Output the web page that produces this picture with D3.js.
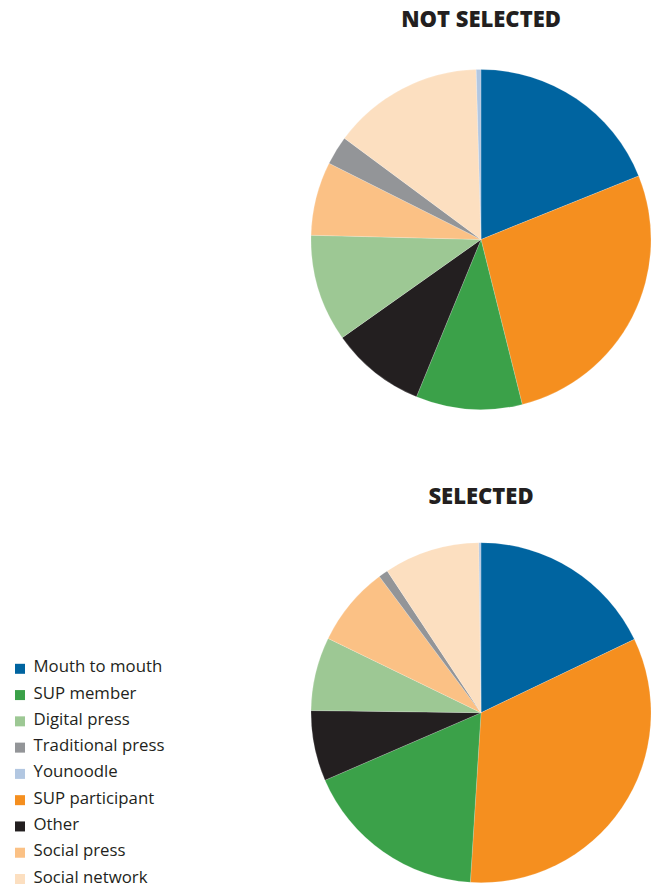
<!DOCTYPE html>
<html>
<head>
<meta charset="utf-8">
<script src="https://cdn.jsdelivr.net/npm/d3@7"></script>
<style>
  html, body { margin: 0; padding: 0; background: #fff; }
  svg { display: block; }
</style>
</head>
<body>
<svg id="chart" width="655" height="889"></svg>
<script>
// Information sources, share of respondents (%)
const sources = ["Mouth to mouth", "SUP member", "Digital press", "Traditional press",
                 "Younoodle", "SUP participant", "Other", "Social press", "Social network"];
const sourceColors = ["#0064a0", "#3ba149", "#9dc894", "#939598",
                      "#b2c7e1", "#f58f1f", "#231f20", "#fbc185", "#fcdfc0"];

// Clockwise slice order, starting at twelve o'clock
const sliceOrder = ["Mouth to mouth", "SUP participant", "SUP member", "Other", "Digital press",
                    "Social press", "Traditional press", "Social network", "Younoodle"];

// Values listed in sliceOrder
const notSelected = [18.9, 27.2, 10.1, 9.0, 10.2, 7.0, 2.75, 14.4, 0.45];
const selected    = [17.9, 33.1, 17.5, 6.7, 7.0, 7.6, 0.9, 9.1, 0.2];

const groupTitles = ["NOT SELECTED", "SELECTED"];
const groupValues = [notSelected, selected];

const svg = d3.select("#chart");
const color = d3.scaleOrdinal().domain(sources).range(sourceColors);

const radius = 170;
const centerX = 481;
const centersY = [239.5, 712.7];
const titleY = [26.5, 504];

const pie = d3.pie().sort(null).value(d => d.value);
const arc = d3.arc().innerRadius(0).outerRadius(radius);

groupValues.forEach((vals, i) => {
  const data = sliceOrder.map((name, j) => ({ name, value: vals[j] }));

  svg.append("text")
    .attr("x", centerX)
    .attr("y", titleY[i])
    .attr("text-anchor", "middle")
    .attr("font-family", "'Open Sans', sans-serif")
    .attr("font-weight", 800)
    .attr("font-size", 22)
    .attr("fill", "#231f20")
    .text(groupTitles[i]);

  const g = svg.append("g")
    .attr("transform", `translate(${centerX},${centersY[i]})`);

  g.selectAll("path")
    .data(pie(data))
    .join("path")
    .attr("d", arc)
    .attr("fill", d => color(d.data.name))
    .attr("stroke", "#ffffff")
    .attr("stroke-width", 0.3)
    .attr("stroke-opacity", 0.6);
});

// Legend
const legendY = d3.scalePoint().domain(sources).range([672.3, 882.5]);
const legend = svg.append("g");
const item = legend.selectAll("g")
  .data(sources)
  .join("g")
  .attr("transform", d => `translate(0,${legendY(d)})`);

item.append("rect")
  .attr("x", 15)
  .attr("y", -8.5)
  .attr("width", 10)
  .attr("height", 10)
  .attr("fill", d => color(d));

item.append("text")
  .attr("x", 33.5)
  .attr("y", 0)
  .attr("font-family", "'Open Sans', sans-serif")
  .attr("font-size", 16.8)
  .attr("fill", "#231f20")
  .text(d => d);
</script>
</body>
</html>
